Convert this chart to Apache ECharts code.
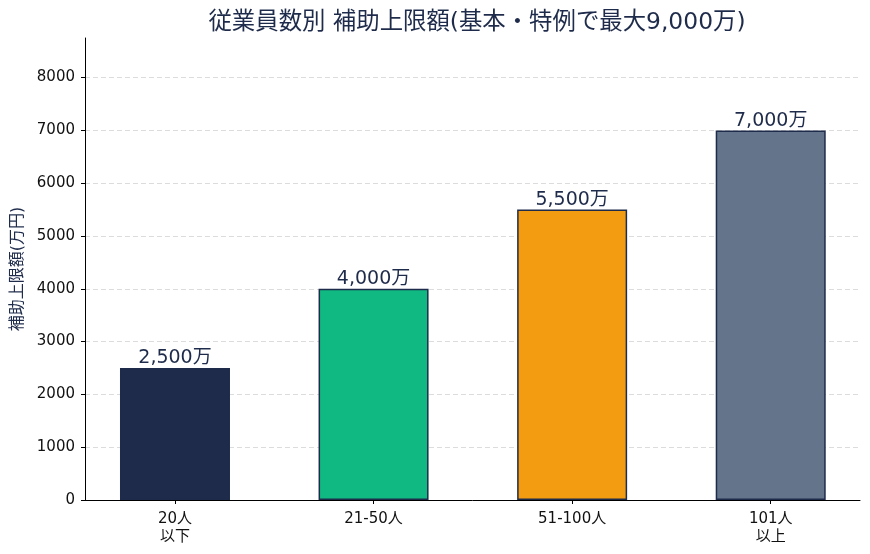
<!DOCTYPE html>
<html>
<head>
<meta charset="utf-8">
<script src="https://cdn.jsdelivr.net/npm/echarts@6/dist/echarts.min.js"></script>
<style>
  html, body { margin: 0; padding: 0; background: #fff; }
</style>
</head>
<body>
<div id="myChart" style="width:870px;height:554px;"></div>
<script>
// 従業員数別の補助上限額
const categories = ['20人\n以下', '21-50人', '51-100人', '101人\n以上'];
const limits = [2500, 4000, 5500, 7000];
const barColors = ['#1e2b4a', '#10b981', '#f39c12', '#64748b'];
const yTicks = [0, 1000, 2000, 3000, 4000, 5000, 6000, 7000, 8000];

const FONT = '"DejaVu Sans", "Noto Sans CJK JP", sans-serif';
const NAVY = '#1e2b4a';
const Y_MAX = 8750;

let myChart = echarts.init(document.getElementById('myChart'));
myChart.setOption({
  backgroundColor: '#fff',
  textStyle: { fontFamily: FONT },
  title: {
    text: '従業員数別 補助上限額(基本・特例で最大9,000万)',
    left: 472,
    textAlign: 'center',
    top: 6,
    textStyle: { fontSize: 23.4, fontWeight: 'normal', color: NAVY, fontFamily: FONT }
  },
  grid: [
    { left: 85, right: 10, top: 38, bottom: 54 },
    { left: 75.7, width: 794.7, top: 38, bottom: 54 }
  ],
  xAxis: [
    {
      // 軸線だけ
      gridIndex: 0,
      type: 'value',
      min: 0,
      max: 1,
      axisLine: { show: true, lineStyle: { color: '#000', width: 1 } },
      axisTick: { show: false },
      axisLabel: { show: false },
      splitLine: { show: false }
    },
    {
      gridIndex: 1,
      type: 'category',
      data: categories,
      axisLine: { show: false },
      axisTick: { show: true, alignWithLabel: true, length: 4, lineStyle: { color: '#000' } },
      axisLabel: { color: '#111', fontSize: 15, lineHeight: 18, margin: 10, fontFamily: FONT },
      splitLine: { show: false }
    }
  ],
  yAxis: [
    {
      gridIndex: 0,
      type: 'value',
      min: 0,
      max: Y_MAX,
      interval: 1000,
      name: '補助上限額(万円)',
      nameLocation: 'middle',
      nameGap: 55,
      nameTextStyle: { color: NAVY, fontSize: 16, fontFamily: FONT },
      axisLine: { show: true, lineStyle: { color: '#000', width: 1 } },
      axisTick: { show: true, length: 4, lineStyle: { color: '#000' } },
      axisLabel: {
        color: '#111', fontSize: 15, margin: 10, fontFamily: FONT,
        showMaxLabel: false,
        formatter: v => (yTicks.includes(v) ? String(v) : '')
      },
      splitLine: {
        show: true,
        showMaxLine: false,
        lineStyle: { color: '#dcdcdc', type: [5, 3], width: 1 }
      }
    },
    {
      gridIndex: 1,
      type: 'value',
      min: 0,
      max: Y_MAX,
      show: false,
      splitLine: { show: false }
    }
  ],
  series: [
    {
      type: 'bar',
      xAxisIndex: 1,
      yAxisIndex: 1,
      barWidth: 110,
      data: limits.map((v, i) => ({
        value: v,
        itemStyle: { color: barColors[i] }
      })),
      itemStyle: { borderColor: NAVY, borderWidth: 1.5 },
      label: {
        show: true,
        position: 'top',
        distance: 0,
        color: NAVY,
        fontSize: 19,
        fontFamily: FONT,
        formatter: p => p.value.toLocaleString('en-US') + '万'
      }
    }
  ]
});
window.onresize = function () {
  myChart.resize();
};
</script>
</body>
</html>
